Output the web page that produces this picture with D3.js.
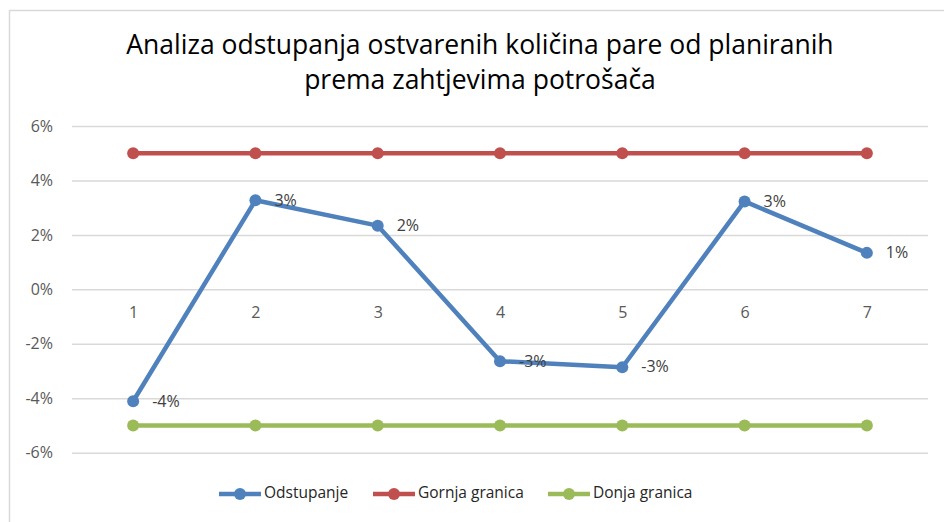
<!DOCTYPE html>
<html>
<head>
<meta charset="utf-8">
<script src="https://cdn.jsdelivr.net/npm/d3@7"></script>
<style>
  body { margin: 0; background: #fff; }
  svg { display: block; font-family: "Open Sans", "Noto Sans", sans-serif; }
</style>
</head>
<body>
<div id="chart"></div>
<script>
// chart data
const categories = ["1", "2", "3", "4", "5", "6", "7"];
const odstupanje = [-0.0411, 0.0327, 0.0234, -0.0264, -0.0286, 0.0323, 0.0134];
const gornjaGranica = [0.05, 0.05, 0.05, 0.05, 0.05, 0.05, 0.05];
const donjaGranica = [-0.05, -0.05, -0.05, -0.05, -0.05, -0.05, -0.05];
const yTicks = [-0.06, -0.04, -0.02, 0, 0.02, 0.04, 0.06];
const titleLines = ["Analiza odstupanja ostvarenih količina pare od planiranih", "prema zahtjevima potrošača"];

const series = [
    { name: "Odstupanje", values: odstupanje, color: "#4F81BD", labels: true },
    { name: "Gornja granica", values: gornjaGranica, color: "#C0504D", labels: false },
    { name: "Donja granica", values: donjaGranica, color: "#9BBB59", labels: false }
];

const W = 944, H = 522;
const plot = { left: 72, right: 928, top: 126, bottom: 452.7 };

// Excel style percent, plain hyphen for negatives
const pct = d => d3.format(".0%")(d).replace("\u2212", "-");

const svg = d3.select("#chart").append("svg")
    .attr("width", W)
    .attr("height", H);

// outer chart border (extends past right/bottom edges)
svg.append("rect")
    .attr("x", 9.5).attr("y", 10.5)
    .attr("width", W).attr("height", H)
    .attr("fill", "#fff")
    .attr("stroke", "#d9d9d9")
    .attr("stroke-width", 1.5);

// title
svg.append("g").selectAll("text")
    .data(titleLines)
    .join("text")
    .attr("x", 480)
    .attr("y", (d, i) => 54 + i * 35)
    .attr("text-anchor", "middle")
    .attr("fill", "#000")
    .style("font-size", "26.5px")
    .text(d => d);

const x = d3.scalePoint()
    .domain(categories)
    .range([plot.left, plot.right])
    .padding(0.5);

const y = d3.scaleLinear()
    .domain([-0.06, 0.06])
    .range([plot.bottom, plot.top]);

// gridlines + y labels
const yAxis = svg.append("g")
    .attr("transform", `translate(${plot.left},0)`)
    .call(d3.axisLeft(y)
        .tickValues(yTicks)
        .tickFormat(pct)
        .tickSize(-(plot.right - plot.left))
        .tickPadding(19));
yAxis.select(".domain").remove();
yAxis.selectAll(".tick line").attr("stroke", "#d9d9d9").attr("stroke-width", 1.5);
yAxis.selectAll(".tick text")
    .attr("fill", "#595959")
    .style("font-size", "16px")
    .style("font-family", "'Open Sans', sans-serif");

// category labels sitting under the zero line
const xAxis = svg.append("g")
    .attr("transform", `translate(0,${y(0)})`)
    .call(d3.axisBottom(x).tickSize(0).tickPadding(17));
xAxis.select(".domain").remove();
xAxis.selectAll(".tick text")
    .attr("fill", "#595959")
    .style("font-size", "16px")
    .style("font-family", "'Open Sans', sans-serif");

const line = d3.line()
    .x((d, i) => x(categories[i]))
    .y(d => y(d));

// draw in reverse so Odstupanje ends up on top
series.slice().reverse().forEach(s => {
    const g = svg.append("g");
    g.append("path")
        .attr("d", line(s.values))
        .attr("fill", "none")
        .attr("stroke", s.color)
        .attr("stroke-width", 4.5)
        .attr("stroke-linejoin", "round");
    g.selectAll("circle")
        .data(s.values)
        .join("circle")
        .attr("cx", (d, i) => x(categories[i]))
        .attr("cy", d => y(d))
        .attr("r", 6)
        .attr("fill", s.color);
    if (s.labels) {
        g.selectAll("text")
            .data(s.values)
            .join("text")
            .attr("x", (d, i) => x(categories[i]) + 19)
            .attr("y", d => y(d) + 1)
            .attr("dominant-baseline", "middle")
            .attr("fill", "#404040")
            .style("font-size", "16px")
            .text(pct);
    }
});

// legend
const legendX = [219, 373, 548];
const legend = svg.append("g").selectAll("g")
    .data(series)
    .join("g")
    .attr("transform", (d, i) => `translate(${legendX[i]},494)`);
legend.append("line")
    .attr("x1", 0).attr("x2", 42)
    .attr("stroke", d => d.color)
    .attr("stroke-width", 4.5);
legend.append("circle")
    .attr("cx", 21).attr("r", 6)
    .attr("fill", d => d.color);
legend.append("text")
    .attr("x", 45)
    .attr("dominant-baseline", "middle")
    .attr("fill", "#262626")
    .style("font-size", "15.5px")
    .text(d => d.name);
</script>
</body>
</html>
